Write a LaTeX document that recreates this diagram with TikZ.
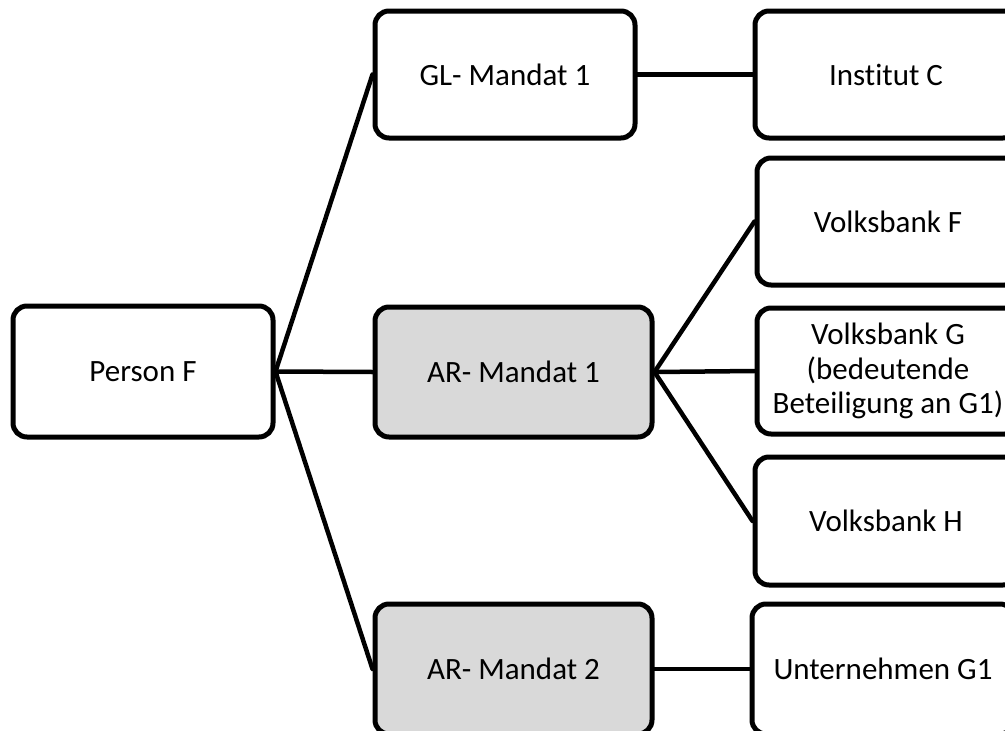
\documentclass[tikz,border=0pt]{standalone}
\usepackage{fontspec}
\setmainfont{Carlito}[Ligatures=NoCommon]
\begin{document}
\begin{tikzpicture}[x=1pt,y=-1pt,
  box/.style={draw=black,line width=5pt,rounded corners=14pt,fill=white,
    inner sep=0pt,align=center,font=\fontsize{31}{34.5}\selectfont},
  mandat/.style={box,fill=boxgrey},
  link/.style={line width=4.5pt,line cap=round}]
\definecolor{boxgrey}{HTML}{D9D9D9}
\useasboundingbox (0,0) rectangle (1005,731);
% left column
\node[box,minimum width=260pt,minimum height=131pt] (pf) at (143,371.5) {Person F};
% middle column
\node[box,minimum width=260pt,minimum height=127pt] (gl) at (505,74.5) {GL- Mandat 1};
\node[mandat,minimum width=277pt,minimum height=130pt] (ar1) at (513.5,372) {AR- Mandat 1};
\node[mandat,minimum width=277pt,minimum height=130pt] (ar2) at (513.5,669) {AR- Mandat 2};
% right column
\node[box,minimum width=262pt,minimum height=127pt] (ic) at (886,74.5) {Institut C};
\node[box,minimum width=262pt,minimum height=127pt] (vf) at (888,221.5) {Volksbank F};
\node[box,minimum width=262pt,minimum height=126pt] (vg) at (888,371) {Volksbank G\\(bedeutende\\Beteiligung an G1)};
\node[box,minimum width=262pt,minimum height=128pt] (vh) at (886,521) {Volksbank H};
\node[box,minimum width=262pt,minimum height=130pt] (ug) at (883,669) {Unternehmen G1};
% connectors
\draw[link] (pf.east) -- (gl.west);
\draw[link] (pf.east) -- (ar1.west);
\draw[link] (pf.east) -- (ar2.west);
\draw[link] (gl.east) -- (ic.west);
\draw[link] (ar1.east) -- (vf.west);
\draw[link] (ar1.east) -- (vg.west);
\draw[link] (ar1.east) -- (vh.west);
\draw[link] (ar2.east) -- (ug.west);
\end{tikzpicture}
\end{document}
